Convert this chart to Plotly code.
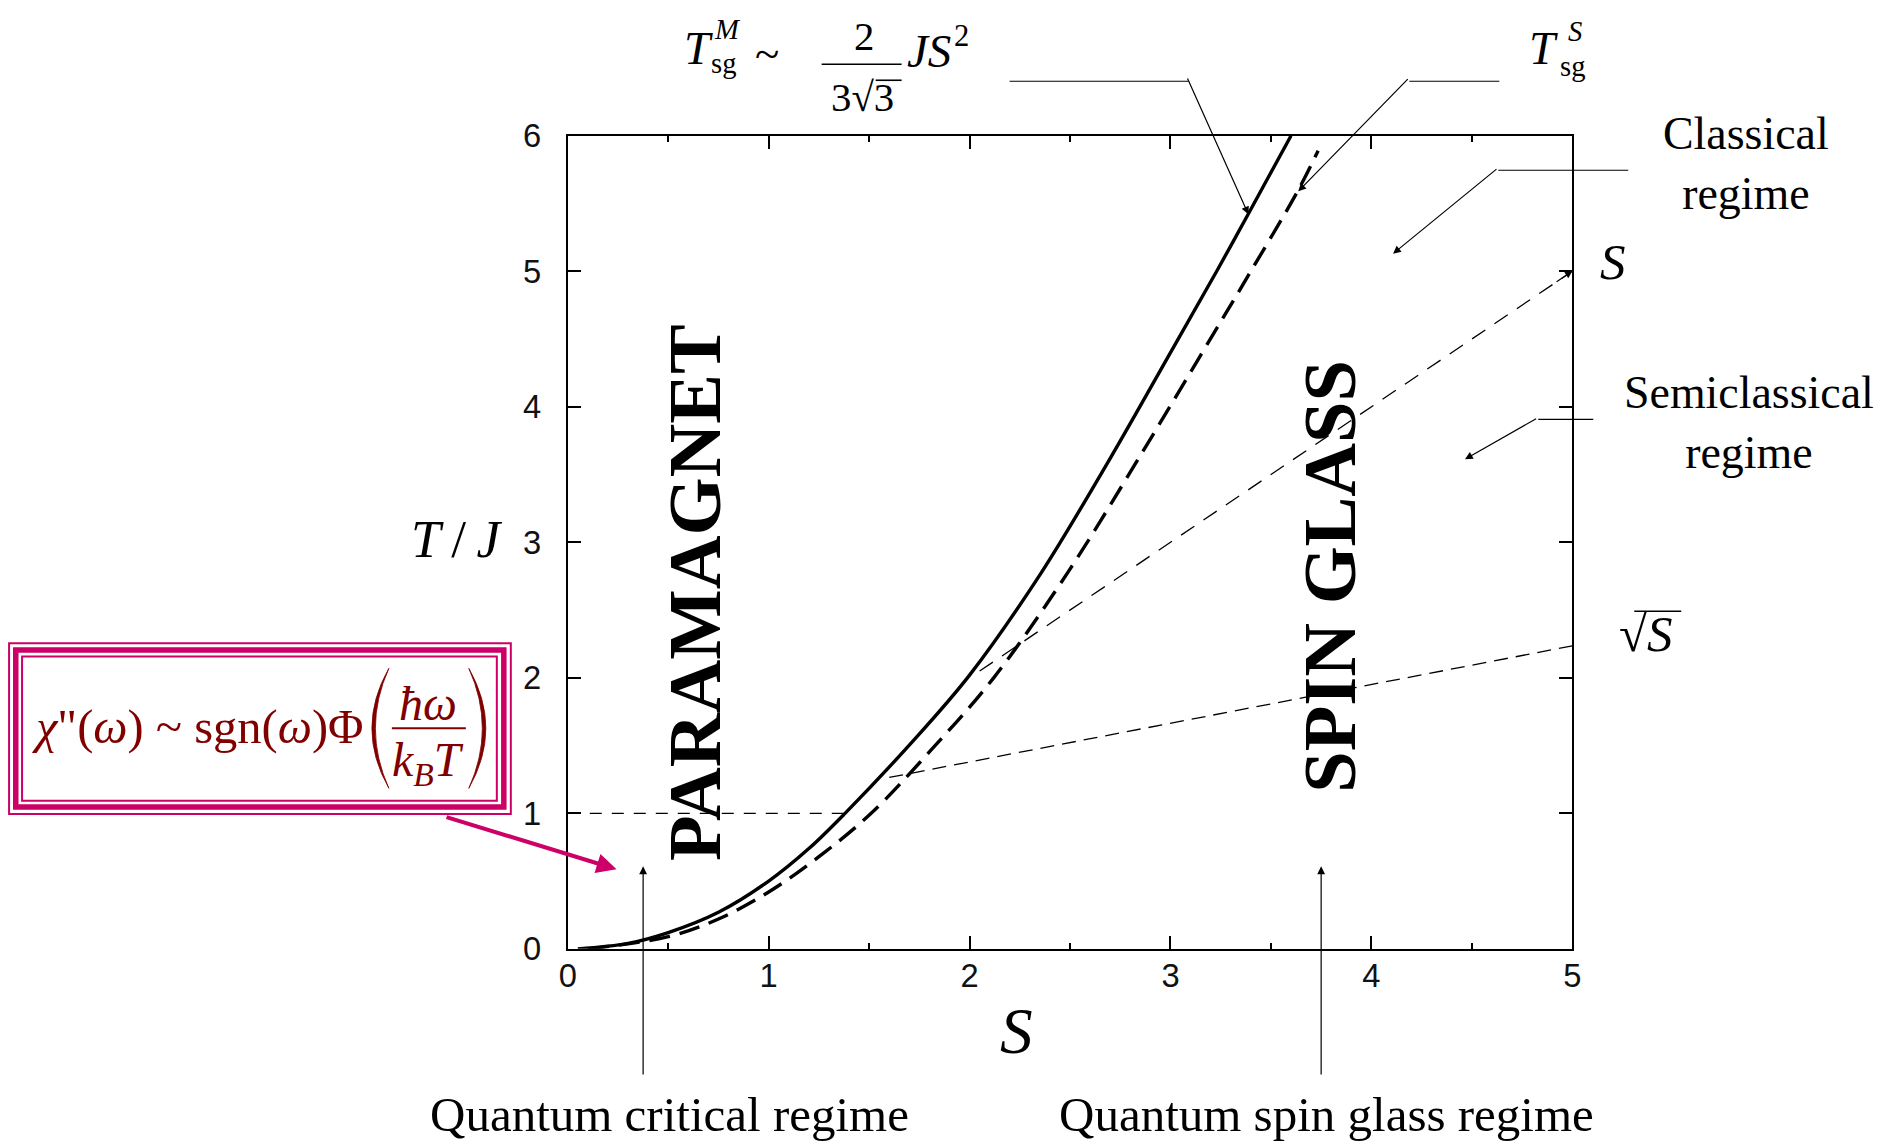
import plotly.graph_objects as go

# ---------------- data ----------------
# T^M_sg (solid curve)
sol_S = [0.05, 0.3, 0.5, 0.75, 1.0, 1.2, 1.38, 1.71, 2.0, 2.35, 2.70, 3.00, 3.23, 3.39, 3.60]
sol_T = [0.0, 0.04, 0.12, 0.27, 0.50, 0.74, 1.0, 1.52, 2.02, 2.76, 3.62, 4.40, 5.0, 5.43, 6.0]
# T^S_sg (thick dashed curve)
dsh_S = [0.1, 0.5, 0.75, 1.0, 1.25, 1.51, 1.81, 2.12, 2.49, 2.85, 3.15, 3.40, 3.64, 3.735]
dsh_T = [0.0, 0.09, 0.22, 0.42, 0.68, 1.0, 1.47, 2.0, 2.78, 3.64, 4.38, 5.0, 5.61, 5.89]
# crossover lines
lin_S = [2.05, 5.0]          # T ~ S
lin_T = [2.05, 5.0]
sqr_S = [1.6, 5.0]           # T ~ sqrt(S)
sqr_T = [1.265, 2.236]
one_S = [0.0, 1.38]          # T = J
one_T = [1.0, 1.0]
x_ticks = [0, 1, 2, 3, 4, 5]
y_ticks = [0, 1, 2, 3, 4, 5, 6]
regime_S = [0.375, 3.75]     # arrows of quantum regimes

# page geometry (body keeps its 8px margin)
OX, OY = 8, 8
FW, FH = 1892, 1160
# measured screen <- page mapping of the capture
SXS, SXO = 0.991, 7.0
SYS, SYO = 0.968, 18.0
SERIF = "Liberation Serif"
SANS = "Liberation Sans"
MAG = "#CC0066"
DRED = "#800000"


def px(x):
    return ((x - SXO) / SXS - OX) / FW


def py(y):
    return 1 - ((y - SYO) / SYS - OY) / FH


def fs(s):
    return round(s / 0.98, 1)


fig = go.Figure()
fig.add_trace(go.Scatter(x=sol_S, y=sol_T, mode="lines",
                         line=dict(color="black", width=3.4, shape="spline", smoothing=1.0),
                         hoverinfo="skip", showlegend=False))
fig.add_trace(go.Scatter(x=dsh_S, y=dsh_T, mode="lines",
                         line=dict(color="black", width=3.4, dash="21px,10px", shape="spline", smoothing=1.0),
                         hoverinfo="skip", showlegend=False))
fig.add_trace(go.Scatter(x=lin_S, y=lin_T, mode="lines",
                         line=dict(color="black", width=1.3, dash="16px,11px"),
                         hoverinfo="skip", showlegend=False))
fig.add_trace(go.Scatter(x=sqr_S, y=sqr_T, mode="lines",
                         line=dict(color="black", width=1.3, dash="14px,8px"),
                         hoverinfo="skip", showlegend=False))
fig.add_trace(go.Scatter(x=one_S, y=one_T, mode="lines",
                         line=dict(color="black", width=1.2, dash="12px,10px"),
                         hoverinfo="skip", showlegend=False))

axis_common = dict(showgrid=False, zeroline=False, showline=True, linecolor="black",
                   linewidth=2, mirror="ticks", ticks="inside", ticklen=13, tickwidth=1.5,
                   tickcolor="black", tickfont=dict(family=SANS, size=fs(32), color="#111"))
fig.update_xaxes(range=[0, 5], domain=[px(566), px(1571)], tickvals=x_ticks,
                 minor=dict(ticks="inside", ticklen=6, dtick=0.5, tickwidth=1.5, tickcolor="black"),
                 ticklabelstandoff=-3, **axis_common)
fig.update_yaxes(range=[0, 6], domain=[py(947.5), py(134.5)], tickvals=y_ticks,
                 ticklabelstandoff=18, **axis_common)

ann = []
shapes = []


def text(t, x, y, size, family=SERIF, color="black", xanchor="center", yanchor="middle", **kw):
    ann.append(dict(text=t, x=px(x), y=py(y), xref="paper", yref="paper", showarrow=False,
                    font=dict(family=family, size=fs(size), color=color),
                    xanchor=xanchor, yanchor=yanchor, **kw))


def hline(x0, y0, x1, y1, color="black", width=1.2):
    shapes.append(dict(type="line", xref="paper", yref="paper", x0=px(x0), y0=py(y0),
                       x1=px(x1), y1=py(y1), line=dict(color=color, width=width)))


def arrow(xd, yd, axp, ayp, color="black", width=1.2, size=1.3, head=2):
    ann.append(dict(text="", x=xd, y=yd, xref="x", yref="y", ax=axp / SXS, ay=ayp / SYS,
                    showarrow=True, arrowhead=head, arrowsize=size, arrowwidth=width,
                    arrowcolor=color, standoff=0))


def paren(xa, xb, y0, y1, width_mid):
    # filled crescent-shaped big parenthesis; xa = tips, xb = belly
    ym = (y0 + y1) / 2
    c_out = 2 * xb - xa
    c_in = 2 * (xb + width_mid * (1 if xa > xb else -1)) - xa
    p = (f"M {px(xa)},{py(y0)} Q {px(c_out)},{py(ym)} {px(xa)},{py(y1)} "
         f"Q {px(c_in)},{py(ym)} {px(xa)},{py(y0)} Z")
    shapes.append(dict(type="path", xref="paper", yref="paper", path=p,
                       fillcolor=DRED, line=dict(color=DRED, width=0.8)))


# axis titles
text("<i>T</i>\u2009/\u2009<i>J</i>", 455, 538, 52)
text("<i>S</i>", 1015, 1030, 64)

# region labels
text("<b>PARAMAGNET</b>", 694, 591, 73, textangle=-90)
text("<b>SPIN GLASS</b>", 1329, 575, 73, textangle=-90)

# bottom regime labels + arrows
text("Quantum critical regime", 668, 1113, 48)
text("Quantum spin glass regime", 1325, 1113, 48)
for s in regime_S:
    arrow(s, (947.5 - 865) / 135.5, 0, 203)

# top formula  T^M_sg ~ 2/(3sqrt3) J S^2
text("<i>T</i>", 697, 47, 46)
text("<i>M</i>", 726, 28, 28)
text("sg", 722, 62, 28)
text("~", 765, 53, 44)
text("2", 862, 35, 40)
hline(820, 63, 900, 63, width=1.6)
text("3√3", 861, 96, 40)
hline(874, 79, 900, 79, width=1.6)
text("<i>JS</i>", 927, 50, 46)
text("2", 960, 35, 30)
hline(1008, 80, 1187, 80)
arrow(3.388, 5.42, 1187 - 1248, 80 - 213)

# T^S_sg
text("<i>T</i>", 1542, 47, 46)
text("<i>S</i>", 1574, 30, 28)
text("sg", 1571, 65, 28)
hline(1498, 80, 1408, 80)
arrow(3.636, 5.59, 1408 - 1298, 80 - 190)

# Classical regime
text("Classical<br>regime", 1745, 162, 45)
hline(1627, 169, 1497, 169)
arrow(4.108, 5.13, 1497 - 1393, 169 - 252)

# Semiclassical regime
text("Semiclassical<br>regime", 1748, 421, 45)
hline(1592, 418, 1537, 418)
arrow(4.466, 3.613, 1537 - 1465, 418 - 458)

# S and sqrt(S) labels
text("<i>S</i>", 1612, 261, 50)
arrow(5.0, 5.0, -17, 11, width=1.2, size=1.2)
text("√<i>S</i>", 1645, 633, 50)
hline(1633, 610, 1680, 610, width=1.6)

# formula box
shapes.append(dict(type="rect", xref="paper", yref="paper", x0=px(7), y0=py(642), x1=px(509), y1=py(812.7),
                   line=dict(color=MAG, width=2)))
shapes.append(dict(type="rect", xref="paper", yref="paper", x0=px(13.7), y0=py(648.7), x1=px(502), y1=py(805.7),
                   line=dict(color=MAG, width=5.5)))
shapes.append(dict(type="rect", xref="paper", yref="paper", x0=px(20), y0=py(655.3), x1=px(495), y1=py(799.3),
                   line=dict(color=MAG, width=2)))
text('<i>χ</i>"(<i>ω</i>) ~ sgn(<i>ω</i>)Φ', 28, 726, 47.5, color=DRED, xanchor="left")
paren(387, 370, 667, 787, 3.5)
paren(467, 484, 667, 787, 3.5)
text("<i>ħω</i>", 426, 702, 47, color=DRED)
hline(390, 727, 464, 727, color=DRED, width=2)
text("<i>k</i><sub><i>B</i></sub><i>T</i>", 426, 762, 47, color=DRED)
# magenta arrow
arrow(0.243, 0.587, 445 - 615, 817 - 868, color=MAG, width=4, size=1.0)

fig.update_layout(width=FW, height=FH, margin=dict(l=0, r=0, t=0, b=0),
                  paper_bgcolor="white", plot_bgcolor="white",
                  annotations=ann, shapes=shapes, showlegend=False)

fig.write_html("out.html", config={"displayModeBar": False})
